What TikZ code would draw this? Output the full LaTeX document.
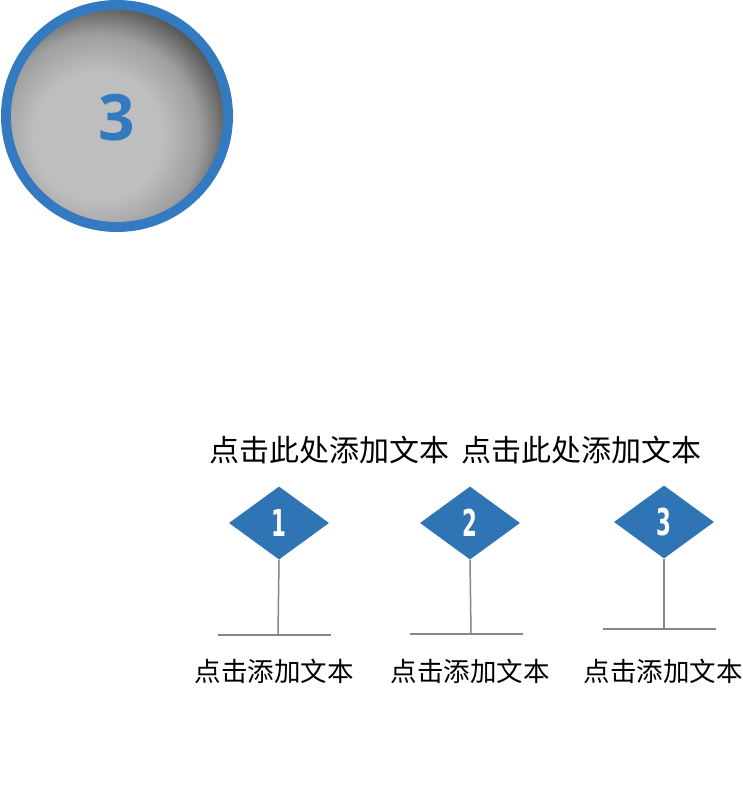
\documentclass[tikz,border=0pt]{standalone}
\usepackage{fontspec}
\usetikzlibrary{shapes.geometric}
\newfontfamily\cjk{Noto Sans CJK SC}
\newfontfamily\numfont{Open Sans}
\newfontfamily\condfont{DejaVu Sans Condensed}[BoldFont={DejaVu Sans Condensed Bold}]
\definecolor{ringblue}{RGB}{52,122,192}
\definecolor{dblue}{RGB}{47,117,182}
\definecolor{stemgray}{RGB}{135,135,135}
\definecolor{lgray}{RGB}{190,190,190}
\definecolor{mgray}{RGB}{158,158,158}
\definecolor{dgray}{RGB}{85,85,85}
\pgfdeclareradialshading{ballshade}{\pgfpoint{0bp}{0bp}}{color(0bp)=(lgray); color(12bp)=(lgray); color(19bp)=(mgray); color(25bp)=(dgray); color(50bp)=(dgray)}
\begin{document}
\begin{tikzpicture}[x=1pt,y=-1pt,
  marker/.style={diamond, fill=dblue, draw=none, minimum width=100pt, minimum height=73pt, inner sep=0pt, aspect=1.37},
  mnum/.style={text=white, font=\condfont\bfseries\fontsize{37}{37}\selectfont},
  stem/.style={draw=stemgray, line width=1.5pt},
  toplabel/.style={font=\cjk\fontsize{30}{31}\selectfont, text=black, inner sep=0pt},
  botlabel/.style={font=\cjk\fontsize{26.5}{28}\selectfont, text=black, inner sep=0pt}]
\useasboundingbox (0,0) rectangle (742,800);
\fill[white] (0,0) rectangle (742,800);
% big circle
\fill[ringblue] (117,116) circle (116);
\begin{scope}
  \clip (117,116) circle (106);
  \shade[shading=ballshade] (98,136) circle (134);
\end{scope}
\node[font=\numfont\bfseries\fontsize{64}{64}\selectfont, text=ringblue] (big3) at (117,118) {3};
% top labels
\node[toplabel] (t1) at (329,450) {点击此处添加文本};
\node[toplabel] (t2) at (581,450) {点击此处添加文本};
% markers
\node[marker] (d1) at (279,523) {};
\node[marker] (d2) at (470,523) {};
\node[marker] (d3) at (664,522) {};
\node[mnum] (n1) at (d1.center) {\scalebox{0.64}[1]{1}};
\node[mnum] (n2) at (d2.center) {\scalebox{0.64}[1]{2}};
\node[mnum] (n3) at (d3.center) {\scalebox{0.64}[1]{3}};
% stems
\coordinate (s1) at (278,635);
\coordinate (s2) at (471,634);
\coordinate (s3) at (664,629);
\coordinate (a1) at (218,635); \coordinate (b1) at (331,635);
\coordinate (a2) at (410,634); \coordinate (b2) at (523,634);
\coordinate (a3) at (603,629); \coordinate (b3) at (716,629);
\draw[stem] (d1.south) -- (s1);
\draw[stem] (d2.south) -- (s2);
\draw[stem] (d3.south) -- (s3);
\draw[stem] (a1) -- (b1);
\draw[stem] (a2) -- (b2);
\draw[stem] (a3) -- (b3);
% bottom labels
\node[botlabel] (l1) at (274,671) {点击添加文本};
\node[botlabel] (l2) at (470,671) {点击添加文本};
\node[botlabel] (l3) at (663,671) {点击添加文本};
\end{tikzpicture}
\end{document}
